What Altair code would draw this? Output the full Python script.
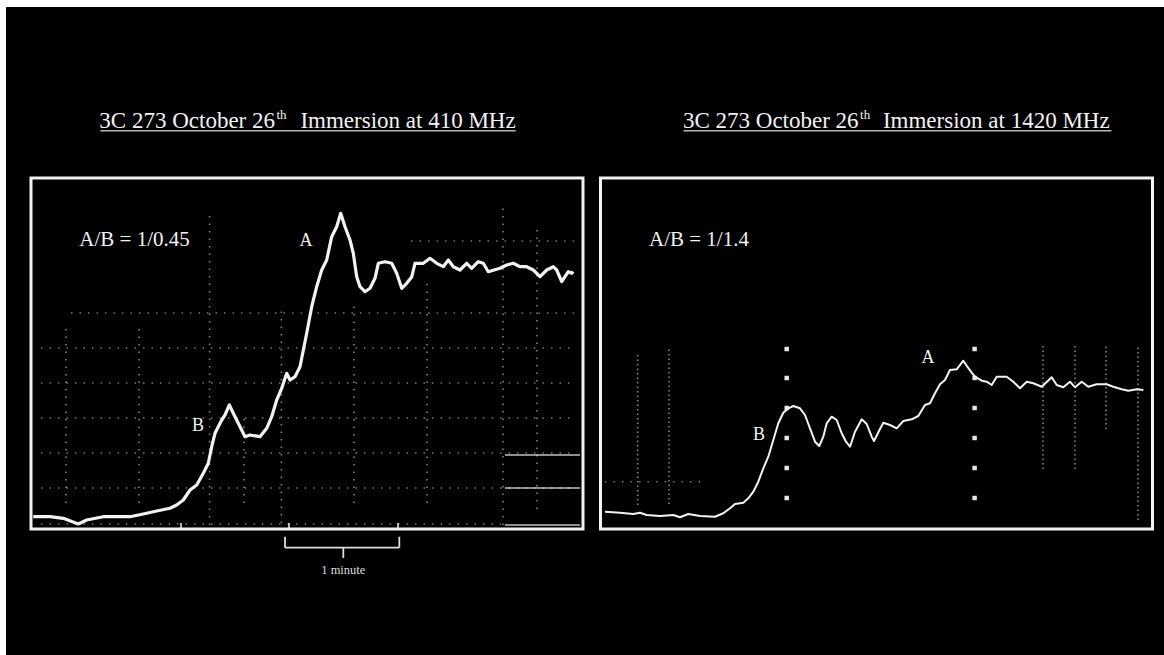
import altair as alt
import pandas as pd

# ---------------- data (panel units: x = offset from panel's left frame, y = height above bottom frame)
PANEL_W = 552
PANEL_H = 351

left_x = [2.3, 19, 32.3, 47.3, 55.7, 72.3, 99, 112.3, 125.7, 139, 145.7, 152.3, 159, 165.7, 172.3, 177.3,
          180.7, 184, 187.3, 190.7, 194, 198.3, 202.3, 207.3, 214, 219, 229, 235.7, 240.7, 245.7, 250.7,
          255.7, 259, 264, 269, 275.7, 280.7, 285.7, 290.7, 295.7, 300.7, 305.7, 309.7, 314, 319, 322.3,
          325.7, 329, 334, 339, 344, 347.3, 354, 360.7, 365.7, 370.7, 375.7, 380.7, 384, 392.3, 399, 405.7,
          412.3, 417.3, 422.3, 429, 435.7, 440.7, 447.3, 452.3, 457.3, 469, 475.7, 482.3, 489, 495.7, 502.3,
          509, 515.7, 522.3, 525.7, 530.7, 534, 537.3, 540.7, 542.3]
left_y = [12.3, 12.3, 10.7, 5, 9, 12.3, 12.3, 15, 18, 20.7, 24, 29, 39, 44, 55.7, 65.7, 82.3, 95.7, 102.3,
          109, 114, 124, 115.7, 105.7, 92.3, 94, 92.3, 100.7, 112.3, 129, 140.7, 155.7, 149, 152.3, 162.3,
          195.7, 222.3, 242.3, 259, 269, 292.3, 302.3, 315.7, 302.3, 289, 275.7, 252.3, 242.3, 237.3, 240.7,
          250.7, 265.7, 267.3, 265.7, 255.7, 240.7, 245.7, 252, 265.7, 265.7, 270.7, 265.7, 262.3, 269,
          262.3, 259, 265.7, 260.7, 267.3, 265.7, 257.3, 260.7, 264, 265.7, 262.3, 262.3, 259, 252.3, 259,
          262.3, 259, 247.3, 252.3, 257.3, 255.7, 257.3]

right_x = [4.5, 19.5, 32.8, 39.5, 46.2, 59.5, 72.8, 79.5, 87.8, 99.5, 114.5, 122.8, 129.5, 134.5, 142.8,
           147.8, 152.8, 157.8, 162.8, 167.8, 172.8, 177.8, 182.8, 187.8, 192.8, 199.5, 204.5, 209.5, 214.5,
           218.8, 222.8, 226.2, 231.2, 236.2, 241.2, 245.5, 249.5, 254.5, 261.2, 266.2, 271.2, 273.5, 278.5,
           282.8, 289.5, 296.2, 302.8, 311.2, 317.8, 324.5, 329.5, 334.5, 339.5, 344.5, 349.5, 356.2, 362.8,
           366.8, 371.2, 374.5, 381.2, 386.2, 391.2, 396.2, 406.2, 412.8, 419.5, 426.2, 432.8, 441.2, 451.2,
           456.2, 462.8, 469.5, 474.5, 481.2, 487.8, 496.2, 506.2, 512.8, 521.2, 527.8, 536.2, 542.8]
right_y = [17.3, 16.3, 15, 16.3, 14, 13, 14, 11.7, 15, 13, 12.3, 15.7, 20.7, 25, 26.3, 30.7, 37.3, 47.3,
           60.7, 72.3, 89, 105.7, 116.3, 120.7, 123, 120.7, 114, 100.7, 87.3, 83, 92.3, 105.7, 112.3, 109,
           95.7, 87.3, 82.3, 97.3, 109.7, 105, 92.3, 88, 98, 106.3, 104, 100.7, 108, 109.7, 113, 124, 125.7,
           135.7, 144.7, 149, 159, 159.7, 168.3, 162.3, 156.3, 152.3, 148.3, 147.3, 144, 152.3, 152.3, 147.3,
           140.7, 147.3, 145.7, 142.3, 151.7, 144, 141.7, 147.3, 141.7, 147.3, 142.3, 144.7, 144.7, 142.3,
           139.7, 138.3, 139.7, 139]

# chart-paper grid remnants
left_vgrid_x = [35, 108, 178.6, 213, 250.4, 323, 396, 472, 506]
left_vgrid_y0 = [26, 26, 4, 26, 6, 26, 26, 4, 20]
left_vgrid_y1 = [206, 206, 319, 110, 219, 226, 249, 322, 300]
left_hgrid_y = [288, 216, 181, 146, 111, 76, 41, 5]
left_hgrid_x0 = [380, 40, 10, 10, 10, 10, 10, 10]
left_hgrid_x1 = [545, 545, 545, 545, 545, 545, 545, 470]
left_corner_y = [74, 41, 4]
left_corner_x0 = [474, 474, 474]
left_corner_x1 = [549, 549, 549]

right_vgrid_x = [37.2, 68.5, 442.5, 474.5, 505.5, 537.5]
right_vgrid_y0 = [24, 25, 60, 60, 100, 9]
right_vgrid_y1 = [177, 180, 185, 185, 185, 184]
right_hgrid_y = [47.3]
right_hgrid_x0 = [4.5]
right_hgrid_x1 = [105]

marker_x = [186.2, 374.1]
marker_y = [180, 151, 121, 91, 61, 31]

# "1 minute" bracket (left panel units)
bracket_x0 = 254
bracket_x1 = 368.3
bracket_mid = 312.3
bracket_top = -7.7
bracket_bar = -18.7
bracket_tip = -29
bottom_ticks = [150, 258, 367]

left_title = ["3C 273 October 26", "th", "Immersion at 410 MHz"]
right_title = ["3C 273 October 26", "th", "Immersion at 1420 MHz"]
left_ratio = "A/B = 1/0.45"
right_ratio = "A/B = 1/1.4"

# ---------------- scales: panel units mapped onto the 1164x655 canvas
LEFT_XDOM = [-31, 1133]
RIGHT_XDOM = [-600.5, 563.5]
YDOM = [-126, 529]
FONT = "Liberation Serif"
INK = "#f2f2f2"


def X(f, dom):
    return alt.X(f"{f}:Q", scale=alt.Scale(domain=dom, nice=False, zero=False), axis=None)


def Y(f):
    return alt.Y(f"{f}:Q", scale=alt.Scale(domain=YDOM, nice=False, zero=False), axis=None)


def text_layer(rows, dom, size, align="left", baseline="alphabetic", color=INK):
    df = pd.DataFrame(rows, columns=["x", "y", "t"])
    return alt.Chart(df).mark_text(align=align, baseline=baseline, font=FONT, fontSize=size,
                                   color=color).encode(x=X("x", dom), y=Y("y"), text="t:N")


def panel(dom, tx, ty, line_w, vx, vy0, vy1, hy, hx0, hx1, title, title_pos, ratio, labels, dash_v):
    layers = []
    # frame
    layers.append(alt.Chart(pd.DataFrame({"x": [0], "x2": [PANEL_W], "y": [0], "y2": [PANEL_H]}))
                  .mark_rect(filled=False, stroke=INK, strokeWidth=3)
                  .encode(x=X("x", dom), x2="x2:Q", y=Y("y"), y2="y2:Q"))
    # grid remnants
    layers.append(alt.Chart(pd.DataFrame({"x": vx, "y": vy0, "y2": vy1}))
                  .mark_rule(color="#ffffff", strokeWidth=1.6, strokeDash=dash_v, opacity=0.5)
                  .encode(x=X("x", dom), y=Y("y"), y2="y2:Q"))
    layers.append(alt.Chart(pd.DataFrame({"y": hy, "x": hx0, "x2": hx1}))
                  .mark_rule(color="#ffffff", strokeWidth=1.5, strokeDash=[1.5, 7], opacity=0.45)
                  .encode(x=X("x", dom), x2="x2:Q", y=Y("y")))
    # trace
    df = pd.DataFrame({"x": tx, "y": ty, "i": list(range(len(tx)))})
    layers.append(alt.Chart(df).mark_line(color=INK, strokeWidth=line_w, strokeJoin="round")
                  .encode(x=X("x", dom), y=Y("y"), order="i:Q"))
    # title (three parts) + underline
    (p1x, p2x, ulx0, ulx1) = title_pos
    layers.append(text_layer([[p1x, 401, title[0]]], dom, 23, align="right"))
    layers.append(text_layer([[p1x + 1.5, 410, title[1]]], dom, 13))
    layers.append(text_layer([[p2x, 401, title[2]]], dom, 23))
    layers.append(alt.Chart(pd.DataFrame({"x": [ulx0], "x2": [ulx1], "y": [398.3]}))
                  .mark_rule(color="#b5b5b5", strokeWidth=1.6)
                  .encode(x=X("x", dom), x2="x2:Q", y=Y("y")))
    # annotations
    layers.append(text_layer([[ratio[0], ratio[1], ratio[2]]], dom, 21))
    layers.append(text_layer(labels, dom, 18, align="center", baseline="middle"))
    return layers


left_layers = panel(LEFT_XDOM, left_x, left_y, 3.2, left_vgrid_x, left_vgrid_y0, left_vgrid_y1,
                    left_hgrid_y, left_hgrid_x0, left_hgrid_x1, left_title,
                    (244, 269.4, 69.4, 484.7), (48.3, 283, left_ratio),
                    [[275, 288, "A"], [167, 103, "B"]], [1.5, 6])

# corner solid segments
left_layers.append(alt.Chart(pd.DataFrame({"y": left_corner_y, "x": left_corner_x0, "x2": left_corner_x1}))
                   .mark_rule(color="#ffffff", strokeWidth=1.5, opacity=0.75)
                   .encode(x=X("x", LEFT_XDOM), x2="x2:Q", y=Y("y")))
# bracket
br = pd.DataFrame({
    "x": [bracket_x0, bracket_x1, bracket_x0, bracket_mid],
    "x2": [bracket_x0, bracket_x1, bracket_x1, bracket_mid],
    "y": [bracket_top, bracket_top, bracket_bar, bracket_bar],
    "y2": [bracket_bar, bracket_bar, bracket_bar, bracket_tip],
})
left_layers.append(alt.Chart(br).mark_rule(color="#dddddd", strokeWidth=1.8)
                   .encode(x=X("x", LEFT_XDOM), x2="x2:Q", y=Y("y"), y2="y2:Q"))
left_layers.append(alt.Chart(pd.DataFrame({"x": bottom_ticks, "y": [0] * 3, "y2": [6] * 3}))
                   .mark_rule(color=INK, strokeWidth=1.5)
                   .encode(x=X("x", LEFT_XDOM), y=Y("y"), y2="y2:Q"))
left_layers.append(text_layer([[bracket_mid, -41, "1 minute"]], LEFT_XDOM, 12.5, align="center",
                              baseline="middle", color="#dddddd"))

right_layers = panel(RIGHT_XDOM, right_x, right_y, 2.0, right_vgrid_x, right_vgrid_y0, right_vgrid_y1,
                     right_hgrid_y, right_hgrid_x0, right_hgrid_x1, right_title,
                     (258.1, 282.4, 83.1, 510.9), (48.5, 283, right_ratio),
                     [[327.5, 171, "A"], [158.5, 94, "B"]], [1.5, 3])
mk = pd.DataFrame([(mx, my) for mx in marker_x for my in marker_y], columns=["x", "y"])
right_layers.append(alt.Chart(mk).mark_square(color=INK, size=20, opacity=0.95)
                    .encode(x=X("x", RIGHT_XDOM), y=Y("y")))

backdrop = alt.Chart(pd.DataFrame({"a": [0]})).mark_rect(color="black").encode(
    x=alt.value(6), x2=alt.value(1220), y=alt.value(7), y2=alt.value(720))

chart = alt.layer(
    alt.layer(backdrop, *left_layers),
    alt.layer(*right_layers),
).resolve_scale(x="independent", y="independent").properties(
    width=1164, height=655, padding=0, background="white",
    autosize=alt.AutoSizeParams(type="none"),
).configure_view(stroke=None)

chart.save("out.html", embed_options={"renderer": "svg", "actions": False})
